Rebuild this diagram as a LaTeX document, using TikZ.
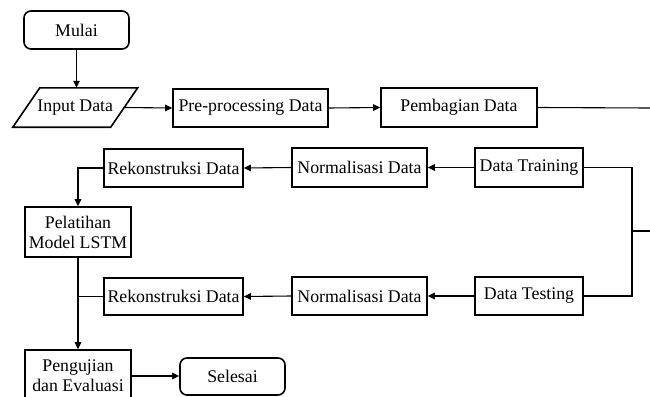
\documentclass[tikz,border=0pt]{standalone}
\usepackage{fontspec}
\setmainfont{Liberation Serif}
\usetikzlibrary{arrows.meta}
\begin{document}
\begin{tikzpicture}[x=1pt,y=-1pt,
  box/.style={draw, line width=1.6pt, inner sep=0pt, align=center, font=\fontsize{17.8}{20}\selectfont},
  rbox/.style={box, rounded corners=7pt},
  ghost/.style={inner sep=0pt, align=center, font=\fontsize{17.8}{20}\selectfont},
  conn/.style={line width=1.1pt},
  arr/.style={conn, -{Triangle[length=7pt,width=6.5pt]}}]
\useasboundingbox (0,0) rectangle (650,396);
\clip (0,0) rectangle (650,396);
\fill[white] (0,0) rectangle (650,396);
% nodes
\node[rbox, minimum width=105pt, minimum height=38pt] (mulai) at (76.5,30) {Mulai};
\node[ghost, minimum width=97.5pt, minimum height=39pt] (in) at (75.25,107.5) {Input Data};
\draw[line width=1.6pt] ([xshift=-13.5pt]in.south west) -- ([xshift=-13.5pt]in.south east)
  -- ([xshift=13.5pt]in.north east) -- ([xshift=13.5pt]in.north west) -- cycle;
\node[box, minimum width=155pt, minimum height=38pt] (pre) at (250.5,108) {Pre-processing Data};
\node[box, minimum width=156pt, minimum height=39pt] (pemb) at (459,107.5) {Pembagian Data};
\node[box, minimum width=108pt, minimum height=39pt] (train) at (529,167.5) {Data Training};
\node[box, minimum width=135pt, minimum height=39pt] (norm1) at (359.5,167.5) {Normalisasi Data};
\node[box, minimum width=139pt, minimum height=38pt] (rek1) at (173.5,168) {Rekonstruksi Data};
\node[box, minimum width=106pt, minimum height=50pt] (pel) at (78,232) {Pelatihan\\Model LSTM};
\node[box, minimum width=108pt, minimum height=38pt] (test) at (529,296) {Data Testing};
\node[box, minimum width=135pt, minimum height=38pt] (norm2) at (359.5,296) {Normalisasi Data};
\node[box, minimum width=139pt, minimum height=37pt] (rek2) at (173.5,296.5) {Rekonstruksi Data};
\node[box, minimum width=106pt, minimum height=52pt] (peng) at (78,376) {Pengujian\\dan Evaluasi};
\node[rbox, minimum width=105pt, minimum height=37pt] (sel) at (232.5,376.5) {Selesai};
% coordinates
\coordinate (outA) at (650,108);
\coordinate (bus) at (632,231);
\coordinate (outB) at (650,231);
% connectors
\draw[arr] (mulai.south) -- (mulai.south |- in.north);
\draw[arr] (in.east) -- (pre.west);
\draw[arr] (pre.east) -- (pemb.west);
\draw[conn] (pemb.east) -- (outA);
\draw[conn] (train.east) -| (bus) |- (test.east);
\draw[conn] (bus) -- (outB);
\draw[arr] (train.west) -- (norm1.east);
\draw[arr] (norm1.west) -- (rek1.east);
\draw[arr] (rek1.west) -| (pel.north);
\draw[arr] (test.west) -- (norm2.east);
\draw[arr] (norm2.west) -- (rek2.east);
\draw[arr] (pel.south) -- (peng.north);
\draw[conn] (rek2.west) -- (pel.south |- rek2.west);
\draw[arr] (peng.east) -- (peng.east -| sel.west);
\end{tikzpicture}
\end{document}
